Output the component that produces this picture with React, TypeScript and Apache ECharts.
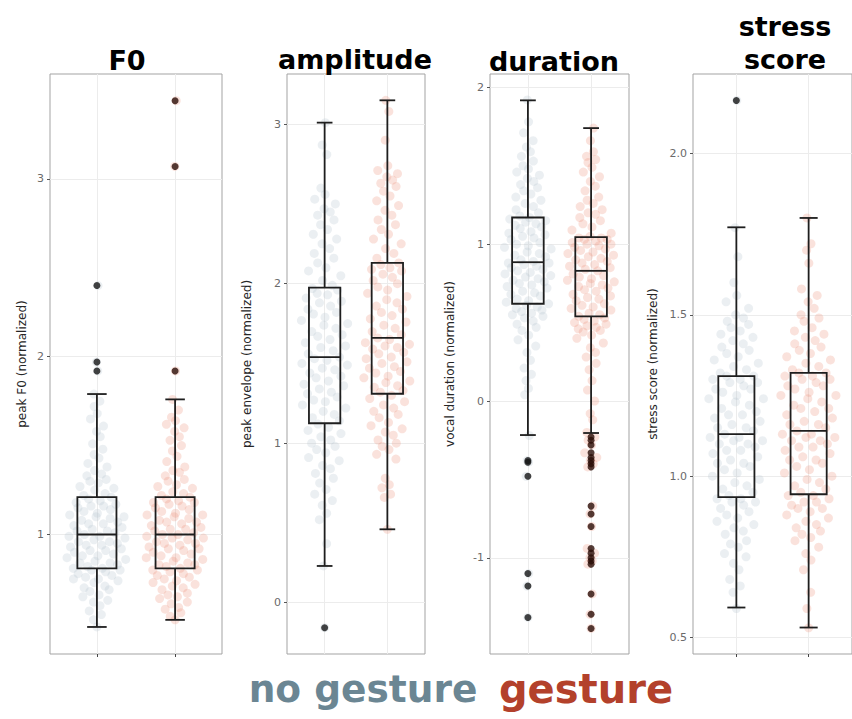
import React, { useEffect, useRef } from "react";
import * as echarts from "echarts";

// ---------- data ----------
const GROUPS = ["no gesture", "gesture"];
const CAT_X = [1, 2];

const F0_TICKS = [1, 2, 3];
const F0_LIMITS = [0.328, 3.59];
const F0_NG_BOX = [0.48, 0.81, 1.0, 1.21, 1.79];
const F0_G_BOX = [0.52, 0.81, 1.0, 1.21, 1.76];
const F0_NG_OUT = [1.92, 1.97, 2.4];
const F0_G_OUT = [1.92, 3.07, 3.44];
const F0_NG = [
  0.48, 0.52, 0.55, 0.57, 0.6, 0.62, 0.63, 0.65, 0.66, 0.68, 0.69, 0.7, 0.71, 0.73, 0.74, 0.75, 0.75, 0.76, 0.77, 0.78, 0.79, 0.8, 0.8, 0.81, 0.81,
  0.82, 0.83, 0.84, 0.84, 0.85, 0.86, 0.87, 0.88, 0.88, 0.89, 0.9, 0.91, 0.91, 0.92, 0.93, 0.94, 0.94, 0.95, 0.96, 0.96, 0.97, 0.98, 0.99, 0.99, 1.0,
  1.01, 1.02, 1.02, 1.03, 1.04, 1.05, 1.06, 1.06, 1.07, 1.08, 1.09, 1.1, 1.1, 1.11, 1.12, 1.13, 1.14, 1.15, 1.16, 1.16, 1.17, 1.18, 1.19, 1.2, 1.21,
  1.22, 1.23, 1.25, 1.26, 1.27, 1.29, 1.3, 1.31, 1.33, 1.34, 1.36, 1.38, 1.4, 1.43, 1.45, 1.48, 1.51, 1.55, 1.58, 1.61, 1.65, 1.68, 1.72, 1.75, 1.79,
];
const F0_G = [
  0.52, 0.54, 0.56, 0.58, 0.59, 0.61, 0.62, 0.64, 0.65, 0.66, 0.67, 0.69, 0.7, 0.71, 0.72, 0.73, 0.74, 0.75, 0.76, 0.77, 0.78, 0.79, 0.8, 0.8, 0.81,
  0.82, 0.83, 0.83, 0.84, 0.85, 0.86, 0.87, 0.87, 0.88, 0.89, 0.9, 0.91, 0.92, 0.92, 0.93, 0.94, 0.95, 0.95, 0.96, 0.97, 0.98, 0.98, 0.99, 1.0, 1.0,
  1.01, 1.02, 1.03, 1.03, 1.04, 1.05, 1.06, 1.07, 1.07, 1.08, 1.09, 1.1, 1.11, 1.11, 1.12, 1.13, 1.14, 1.15, 1.16, 1.17, 1.18, 1.18, 1.19, 1.2, 1.21,
  1.22, 1.23, 1.24, 1.26, 1.27, 1.28, 1.3, 1.31, 1.33, 1.35, 1.36, 1.38, 1.41, 1.44, 1.47, 1.5, 1.53, 1.55, 1.58, 1.6, 1.62, 1.64, 1.66, 1.7, 1.76,
];

const AMP_TICKS = [0, 1, 2, 3];
const AMP_LIMITS = [-0.322, 3.315];
const AMP_NG_BOX = [0.23, 1.125, 1.54, 1.975, 3.01];
const AMP_G_BOX = [0.46, 1.31, 1.66, 2.13, 3.15];
const AMP_NG_OUT = [-0.157];
const AMP_G_OUT: number[] = [];
const AMP_NG = [
  0.23, 0.37, 0.52, 0.56, 0.61, 0.64, 0.68, 0.71, 0.75, 0.78, 0.81, 0.84, 0.86, 0.89, 0.91, 0.94, 0.96, 0.98, 1.0, 1.02, 1.04, 1.06, 1.08, 1.1, 1.12,
  1.14, 1.16, 1.18, 1.2, 1.22, 1.24, 1.26, 1.27, 1.29, 1.31, 1.32, 1.34, 1.36, 1.37, 1.39, 1.41, 1.42, 1.44, 1.46, 1.47, 1.49, 1.5, 1.52, 1.53, 1.54,
  1.56, 1.58, 1.6, 1.61, 1.63, 1.65, 1.67, 1.68, 1.7, 1.72, 1.74, 1.75, 1.77, 1.79, 1.81, 1.82, 1.84, 1.86, 1.88, 1.89, 1.91, 1.93, 1.94, 1.96, 1.97,
  1.99, 2.02, 2.05, 2.08, 2.1, 2.13, 2.16, 2.19, 2.22, 2.25, 2.28, 2.31, 2.34, 2.37, 2.4, 2.43, 2.45, 2.47, 2.5, 2.53, 2.56, 2.6, 2.81, 2.87, 3.01,
];
const AMP_G = [
  0.46, 0.66, 0.68, 0.72, 0.74, 0.78, 0.9, 0.93, 0.96, 0.98, 1.0, 1.02, 1.05, 1.07, 1.09, 1.11, 1.13, 1.16, 1.18, 1.2, 1.22, 1.24, 1.26, 1.28, 1.3,
  1.32, 1.33, 1.35, 1.36, 1.38, 1.39, 1.41, 1.42, 1.44, 1.45, 1.47, 1.48, 1.5, 1.51, 1.53, 1.54, 1.56, 1.57, 1.59, 1.6, 1.61, 1.62, 1.63, 1.65, 1.66,
  1.68, 1.7, 1.72, 1.74, 1.76, 1.78, 1.8, 1.82, 1.84, 1.86, 1.88, 1.9, 1.92, 1.94, 1.96, 1.98, 2.0, 2.02, 2.04, 2.06, 2.08, 2.09, 2.1, 2.12, 2.13,
  2.16, 2.19, 2.22, 2.25, 2.28, 2.31, 2.34, 2.37, 2.4, 2.43, 2.46, 2.49, 2.52, 2.55, 2.58, 2.61, 2.63, 2.65, 2.67, 2.69, 2.71, 2.74, 2.9, 3.08, 3.15,
];

const DUR_TICKS = [-1, 0, 1, 2];
const DUR_LIMITS = [-1.613, 2.085];
const DUR_NG_BOX = [-0.217, 0.62, 0.885, 1.17, 1.917];
const DUR_G_BOX = [-0.204, 0.54, 0.83, 1.045, 1.74];
const DUR_NG_OUT = [-0.38, -0.39, -0.48, -1.1, -1.18, -1.38];
const DUR_G_OUT = [
  -0.23, -0.25, -0.28, -0.33, -0.36, -0.38, -0.4, -0.42, -0.67, -0.72, -0.8, -0.94, -0.97, -1.0, -1.02, -1.04, -1.23, -1.36, -1.45,
];
const DUR_NG = [
  -0.22, 0.04, 0.08, 0.13, 0.17, 0.21, 0.26, 0.31, 0.35, 0.39, 0.42, 0.45, 0.47, 0.49, 0.51, 0.53, 0.54, 0.55, 0.56, 0.57, 0.58, 0.59, 0.6, 0.61, 0.62,
  0.63, 0.64, 0.65, 0.67, 0.68, 0.69, 0.7, 0.72, 0.73, 0.74, 0.75, 0.76, 0.77, 0.78, 0.79, 0.8, 0.81, 0.82, 0.83, 0.84, 0.85, 0.86, 0.87, 0.88, 0.88,
  0.89, 0.9, 0.92, 0.93, 0.94, 0.95, 0.97, 0.98, 0.99, 1.0, 1.01, 1.03, 1.04, 1.05, 1.06, 1.07, 1.08, 1.1, 1.11, 1.12, 1.13, 1.14, 1.15, 1.16, 1.17,
  1.18, 1.2, 1.22, 1.24, 1.26, 1.28, 1.3, 1.32, 1.34, 1.36, 1.38, 1.4, 1.42, 1.44, 1.46, 1.48, 1.5, 1.53, 1.56, 1.59, 1.62, 1.66, 1.71, 1.78, 1.92,
];
const DUR_G = [
  -0.2, -0.12, -0.08, 0.0, 0.07, 0.13, 0.2, 0.24, 0.28, 0.31, 0.34, 0.37, 0.4, 0.42, 0.44, 0.45, 0.46, 0.47, 0.48, 0.49, 0.5, 0.51, 0.52, 0.53, 0.54,
  0.55, 0.56, 0.58, 0.59, 0.6, 0.61, 0.62, 0.64, 0.65, 0.66, 0.67, 0.68, 0.7, 0.71, 0.72, 0.73, 0.74, 0.75, 0.76, 0.77, 0.78, 0.79, 0.8, 0.81, 0.83,
  0.84, 0.85, 0.86, 0.87, 0.88, 0.89, 0.9, 0.91, 0.92, 0.93, 0.94, 0.95, 0.96, 0.97, 0.98, 0.99, 1.0, 1.0, 1.01, 1.02, 1.03, 1.03, 1.04, 1.04, 1.05,
  1.07, 1.09, 1.11, 1.13, 1.15, 1.17, 1.19, 1.2, 1.22, 1.24, 1.26, 1.28, 1.3, 1.34, 1.37, 1.4, 1.43, 1.46, 1.49, 1.52, 1.54, 1.56, 1.59, 1.66, 1.74,
];

const STR_TICKS = [0.5, 1.0, 1.5, 2.0];
const STR_LIMITS = [0.449, 2.246];
const STR_NG_BOX = [0.593, 0.935, 1.13, 1.31, 1.771];
const STR_G_BOX = [0.531, 0.944, 1.14, 1.32, 1.8];
const STR_NG_OUT = [2.164];
const STR_G_OUT: number[] = [];
const STR_NG = [
  0.59, 0.64, 0.66, 0.68, 0.71, 0.73, 0.75, 0.76, 0.78, 0.79, 0.8, 0.82, 0.83, 0.84, 0.85, 0.86, 0.87, 0.88, 0.89, 0.9, 0.91, 0.92, 0.92, 0.93, 0.93,
  0.94, 0.95, 0.96, 0.97, 0.98, 0.99, 1.0, 1.01, 1.02, 1.03, 1.04, 1.04, 1.05, 1.06, 1.07, 1.08, 1.08, 1.09, 1.1, 1.1, 1.11, 1.11, 1.12, 1.12, 1.13,
  1.14, 1.15, 1.15, 1.16, 1.17, 1.18, 1.19, 1.19, 1.2, 1.21, 1.22, 1.23, 1.24, 1.24, 1.25, 1.26, 1.27, 1.27, 1.28, 1.29, 1.29, 1.3, 1.3, 1.31, 1.31,
  1.32, 1.33, 1.34, 1.35, 1.36, 1.37, 1.38, 1.39, 1.4, 1.41, 1.42, 1.43, 1.44, 1.45, 1.46, 1.47, 1.48, 1.49, 1.5, 1.52, 1.54, 1.56, 1.6, 1.68, 1.77,
];
const STR_G = [
  0.53, 0.59, 0.64, 0.71, 0.74, 0.76, 0.78, 0.8, 0.81, 0.82, 0.83, 0.84, 0.85, 0.86, 0.87, 0.88, 0.89, 0.9, 0.9, 0.91, 0.92, 0.92, 0.93, 0.94, 0.94,
  0.95, 0.96, 0.97, 0.98, 0.99, 1.0, 1.01, 1.02, 1.03, 1.04, 1.05, 1.05, 1.06, 1.07, 1.08, 1.09, 1.09, 1.1, 1.11, 1.11, 1.12, 1.12, 1.13, 1.13, 1.14,
  1.15, 1.16, 1.16, 1.17, 1.18, 1.19, 1.2, 1.21, 1.21, 1.22, 1.23, 1.24, 1.25, 1.25, 1.26, 1.27, 1.28, 1.28, 1.29, 1.3, 1.3, 1.31, 1.31, 1.32, 1.32,
  1.33, 1.34, 1.35, 1.36, 1.37, 1.38, 1.39, 1.4, 1.41, 1.42, 1.43, 1.44, 1.45, 1.46, 1.48, 1.49, 1.5, 1.52, 1.54, 1.56, 1.58, 1.66, 1.7, 1.72, 1.8,
];

// ---------- layout / style ----------
const FONT = '"DejaVu Sans", Verdana, sans-serif';
const NG_POINT = "rgba(180,195,206,0.34)";
const G_POINT = "rgba(234,140,118,0.32)";
const NG_OUT_COLOR = "#151515";
const G_OUT_COLOR = "#2a0e07";

const PANELS = [
  { title: "F0", tx: 127, ty: 60, yName: "peak F0 (normalized)", lim: F0_LIMITS, ticks: F0_TICKS, dec: 0,
    grid: { left: 50, top: 74, width: 172, height: 580 }, nameGap: 22, bw: 0.07,
    ng: F0_NG, g: F0_G, ngBox: F0_NG_BOX, gBox: F0_G_BOX, ngOut: F0_NG_OUT, gOut: F0_G_OUT },
  { title: "amplitude", tx: 355, ty: 59, yName: "peak envelope (normalized)", lim: AMP_LIMITS, ticks: AMP_TICKS, dec: 0,
    grid: { left: 287, top: 74, width: 138, height: 580 }, nameGap: 34, bw: 0.16,
    ng: AMP_NG, g: AMP_G, ngBox: AMP_NG_BOX, gBox: AMP_G_BOX, ngOut: AMP_NG_OUT, gOut: AMP_G_OUT },
  { title: "duration", tx: 554, ty: 61, yName: "vocal duration (normalized)", lim: DUR_LIMITS, ticks: DUR_TICKS, dec: 0,
    grid: { left: 490, top: 74, width: 139, height: 580 }, nameGap: 34, bw: 0.12,
    ng: DUR_NG, g: DUR_G, ngBox: DUR_NG_BOX, gBox: DUR_G_BOX, ngOut: DUR_NG_OUT, gOut: DUR_G_OUT },
  { title: "stress\nscore", tx: 785, ty: 43, yName: "stress score (normalized)", lim: STR_LIMITS, ticks: STR_TICKS, dec: 1,
    grid: { left: 693, top: 74, width: 172, height: 580 }, nameGap: 34, bw: 0.06,
    ng: STR_NG, g: STR_G, ngBox: STR_NG_BOX, gBox: STR_G_BOX, ngOut: STR_NG_OUT, gOut: STR_G_OUT },
];

// quasirandom (van der Corput) horizontal layout scaled by local density
function vdc(n: number) {
  let v = 0, denom = 1;
  while (n > 0) { denom *= 2; v += (n % 2) / denom; n = Math.floor(n / 2); }
  return v;
}
function quasi(vals: number[], cx: number, half: number, bw: number) {
  const sorted = [...vals].sort((a, b) => a - b);
  const dens = (y: number) => vals.reduce((s, v) => s + Math.exp(-0.5 * ((y - v) / bw) ** 2), 0);
  const ds = sorted.map(dens);
  const maxD = Math.max(...ds);
  return sorted.map((y, k) => [cx + (vdc(k + 1) - 0.5) * 2 * half * (ds[k] / maxD), y]);
}

const LINE = "#1e1e1e";
function renderBox(_params: any, api: any) {
  const cx = api.value(0);
  const mn = api.value(1), q1 = api.value(2), md = api.value(3), q3 = api.value(4), mx = api.value(5);
  const p = (x: number, y: number) => api.coord([x, y]);
  const seg = (a: number[], b: number[]) => ({
    type: "line", shape: { x1: a[0], y1: a[1], x2: b[0], y2: b[1] }, style: { stroke: LINE, lineWidth: 1.8 },
  });
  const tl = p(cx - 0.25, q3), br = p(cx + 0.25, q1);
  return {
    type: "group",
    children: [
      seg(p(cx, q3), p(cx, mx)),
      seg(p(cx, q1), p(cx, mn)),
      seg(p(cx - 0.125, mx), p(cx + 0.125, mx)),
      seg(p(cx - 0.125, mn), p(cx + 0.125, mn)),
      { type: "rect", shape: { x: tl[0], y: tl[1], width: br[0] - tl[0], height: br[1] - tl[1] },
        style: { fill: "none", stroke: LINE, lineWidth: 1.8 } },
      seg(p(cx - 0.25, md), p(cx + 0.25, md)),
    ],
  };
}

function buildOption() {
  const grid: any[] = [], xAxis: any[] = [], yAxis: any[] = [], series: any[] = [], graphic: any[] = [];
  PANELS.forEach((P, i) => {
    grid.push({ ...P.grid, show: true, borderColor: "#a3a3a3", borderWidth: 1, backgroundColor: "transparent" });
    xAxis.push({
      gridIndex: i, type: "value", min: 0.4, max: 2.6,
      axisLine: { show: false },
      axisTick: { show: true, length: 3, customValues: CAT_X, lineStyle: { color: "#444" } },
      axisLabel: { show: false, customValues: CAT_X },
      splitLine: { show: false },
    });
    yAxis.push({
      gridIndex: i, type: "value", min: P.lim[0], max: P.lim[1],
      name: P.yName, nameLocation: "middle", nameRotate: 90, nameGap: P.nameGap,
      nameTextStyle: { fontSize: 12, color: "#262626", fontFamily: FONT },
      axisLine: { show: false },
      axisTick: { show: true, length: 3, customValues: P.ticks, lineStyle: { color: "#555" } },
      axisLabel: {
        customValues: P.ticks, fontSize: 11, color: "#6a6a6a", fontFamily: FONT, margin: 6,
        formatter: (v: number) => v.toFixed(P.dec),
      },
      splitLine: { show: false },
    });
    // faint grid lines
    series.push({
      type: "scatter", xAxisIndex: i, yAxisIndex: i, data: [], silent: true, z: 1,
      markLine: {
        silent: true, symbol: ["none", "none"], label: { show: false }, z: 1, animation: false,
        lineStyle: { color: "#ececec", width: 1, type: "solid" },
        emphasis: { disabled: true },
        data: [...P.ticks.map((v) => ({ yAxis: v })), ...CAT_X.map((v) => ({ xAxis: v }))],
      },
    });
    series.push({
      name: GROUPS[0], type: "scatter", xAxisIndex: i, yAxisIndex: i, symbolSize: 9, z: 2, silent: true,
      itemStyle: { color: NG_POINT },
      data: quasi([...P.ng, ...P.ngOut], CAT_X[0], 0.4, P.bw),
    });
    series.push({
      name: GROUPS[1], type: "scatter", xAxisIndex: i, yAxisIndex: i, symbolSize: 9, z: 2, silent: true,
      itemStyle: { color: G_POINT },
      data: quasi([...P.g, ...P.gOut], CAT_X[1], 0.4, P.bw),
    });
    series.push({
      type: "custom", xAxisIndex: i, yAxisIndex: i, z: 3, silent: true,
      renderItem: renderBox,
      encode: { x: 0, y: [1, 2, 3, 4, 5] },
      data: [[CAT_X[0], ...P.ngBox], [CAT_X[1], ...P.gBox]],
    });
    series.push({
      type: "scatter", xAxisIndex: i, yAxisIndex: i, symbolSize: 7, z: 4, silent: true,
      itemStyle: { color: NG_OUT_COLOR },
      data: P.ngOut.map((v) => [CAT_X[0], v]),
    });
    series.push({
      type: "scatter", xAxisIndex: i, yAxisIndex: i, symbolSize: 7, z: 4, silent: true,
      itemStyle: { color: G_OUT_COLOR },
      data: P.gOut.map((v) => [CAT_X[1], v]),
    });
    graphic.push({
      type: "text", x: P.tx, y: P.ty,
      style: { text: P.title, fontSize: 27, fontWeight: "bold", fontFamily: FONT, fill: "#000",
        align: "center", verticalAlign: "middle", lineHeight: 33 },
    });
  });
  graphic.push({
    type: "text", x: 363, y: 689,
    style: { text: GROUPS[0], fontSize: 37.5, fontWeight: "bold", fontFamily: FONT, fill: "#6b8693",
      align: "center", verticalAlign: "middle" },
  });
  graphic.push({
    type: "text", x: 586, y: 689,
    style: { text: GROUPS[1], fontSize: 40, fontWeight: "bold", fontFamily: FONT, fill: "#b3412b",
      align: "center", verticalAlign: "middle" },
  });
  return { animation: false, backgroundColor: "#ffffff", grid, xAxis, yAxis, series, graphic };
}

export default function App() {
  const ref = useRef<HTMLDivElement>(null);
  useEffect(() => {
    if (!ref.current) return;
    const chart = echarts.init(ref.current, undefined, { renderer: "svg" });
    chart.setOption(buildOption() as any);
    return () => chart.dispose();
  }, []);
  return (
    <div
      ref={ref}
      style={{ position: "fixed", left: 0, top: 0, width: 852, height: 719, background: "#fff" }}
    />
  );
}
